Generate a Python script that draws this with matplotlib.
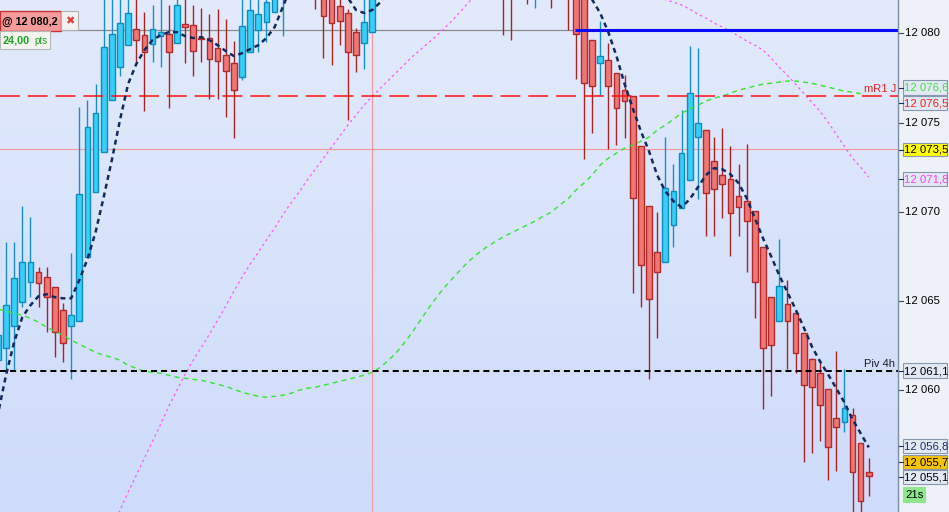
import numpy as np
import matplotlib
matplotlib.use("Agg")
import matplotlib.pyplot as plt
from matplotlib.patches import Rectangle
from matplotlib.lines import Line2D
from matplotlib.transforms import blended_transform_factory

plt.rcParams["font.family"] = ["Liberation Sans", "DejaVu Sans"]
nan = np.nan

# ---------- candles (index 0..107), prices ----------
opens = [12061.69, 12062.36, 12063.60, 12064.94, 12066.06, 12066.62, 12066.34, 12065.78, 12064.49, 12063.60,
         12063.88, 12067.46, 12071.10, 12073.35, 12076.26, 12078.11, 12079.34, 12080.24, 12079.90, 12079.40,
         12079.85, 12079.96, 12079.46, 12080.52, 12080.47, 12079.74, 12079.74, 12079.18, 12078.78, 12078.34,
         12077.55, 12078.95, 12080.18, 12080.63, 12081.19, 12082.30, 12083.40, 12084.20, 12083.60, 12084.00,
         12082.60, 12082.40, 12081.53, 12081.14, 12080.07, 12079.46, 12080.07, 12082.40, 12083.20, 12084.00,
         12084.80, 12085.50, 12085.00, 12085.90, 12086.40, 12085.80, 12086.50, 12086.00, 12085.20, 12085.70,
         12084.90, 12084.30, 12084.00, 12083.80, 12082.40, 12084.20, 12082.60, 12084.10, 12083.20, 12082.40,
         12083.60, 12082.50, 12082.20, 12079.62, 12078.34, 12078.50, 12077.77, 12076.82, 12076.49, 12073.68,
         12070.32, 12067.74, 12067.18, 12069.26, 12070.21, 12071.78, 12074.19, 12074.58, 12072.84, 12072.06,
         12071.83, 12070.88, 12070.60, 12070.04, 12068.02, 12065.22, 12063.88, 12064.83, 12064.32, 12063.20,
         12061.75, 12060.96, 12060.06, 12058.44, 12058.21, 12058.61, 12057.04, 12055.44]
highs = [12063.71, 12068.30, 12068.30, 12070.32, 12069.70, 12066.90, 12066.90, 12065.78, 12064.89, 12067.68,
         12075.87, 12076.26, 12077.16, 12082.30, 12082.40, 12082.20, 12082.50, 12082.00, 12081.19, 12081.59,
         12082.00, 12081.59, 12082.30, 12082.00, 12081.59, 12081.42, 12081.08, 12081.36, 12080.80, 12079.57,
         12082.00, 12082.50, 12082.10, 12082.60, 12082.90, 12084.00, 12084.60, 12085.00, 12084.80, 12084.40,
         12083.00, 12082.80, 12082.00, 12081.36, 12080.30, 12082.20, 12083.00, 12083.60, 12084.50, 12085.20,
         12086.00, 12086.60, 12086.30, 12087.00, 12087.20, 12086.90, 12087.40, 12086.80, 12086.10, 12086.40,
         12085.80, 12085.20, 12084.50, 12084.40, 12084.00, 12084.80, 12084.60, 12085.00, 12083.60, 12084.00,
         12084.00, 12083.00, 12082.60, 12079.62, 12080.69, 12079.46, 12077.77, 12077.66, 12076.49, 12073.68,
         12070.32, 12069.98, 12074.19, 12072.67, 12075.70, 12079.29, 12079.18, 12074.58, 12074.19, 12074.69,
         12073.68, 12072.67, 12073.79, 12070.04, 12068.02, 12065.22, 12068.47, 12066.17, 12064.32, 12063.20,
         12061.80, 12061.69, 12060.06, 12062.20, 12061.18, 12059.00, 12057.04, 12056.20]
lows = [12061.13, 12061.13, 12061.13, 12064.66, 12065.22, 12064.66, 12063.26, 12061.86, 12061.58, 12060.62,
        12063.88, 12067.46, 12071.10, 12073.35, 12076.26, 12077.61, 12079.34, 12078.39, 12075.64, 12078.39,
        12078.11, 12075.81, 12079.46, 12078.34, 12077.61, 12078.39, 12076.32, 12076.32, 12075.31, 12074.13,
        12077.38, 12078.95, 12078.95, 12079.51, 12081.19, 12079.85, 12082.90, 12083.10, 12082.50, 12081.36,
        12078.62, 12078.22, 12079.34, 12075.14, 12077.83, 12078.00, 12080.07, 12082.10, 12082.80, 12083.40,
        12084.10, 12084.70, 12084.20, 12085.00, 12085.30, 12084.90, 12085.60, 12084.80, 12084.00, 12084.50,
        12083.60, 12083.00, 12079.90, 12079.62, 12082.00, 12081.64, 12081.42, 12082.60, 12081.42, 12082.00,
        12080.18, 12077.44, 12072.95, 12074.41, 12076.54, 12073.51, 12073.74, 12074.13, 12065.45, 12064.66,
        12060.62, 12062.92, 12067.18, 12068.02, 12070.21, 12071.78, 12070.71, 12068.64, 12068.64, 12069.65,
        12067.52, 12068.64, 12066.62, 12064.04, 12058.94, 12059.67, 12063.88, 12061.18, 12060.96, 12055.97,
        12056.48, 12057.15, 12054.99, 12055.47, 12057.65, 12052.90, 12052.90, 12054.09]
closes = [12063.09, 12064.77, 12066.28, 12067.18, 12067.18, 12066.00, 12065.22, 12063.26, 12062.64, 12064.21,
          12070.99, 12074.75, 12075.53, 12079.23, 12079.96, 12080.58, 12081.14, 12079.62, 12078.95, 12080.24,
          12080.07, 12078.95, 12081.59, 12080.35, 12079.01, 12079.68, 12078.56, 12078.45, 12077.89, 12076.82,
          12080.41, 12081.31, 12081.08, 12081.75, 12082.40, 12083.40, 12084.20, 12083.60, 12084.00, 12082.60,
          12080.97, 12080.58, 12080.69, 12078.95, 12078.78, 12080.63, 12082.40, 12083.20, 12084.00, 12084.80,
          12085.50, 12085.00, 12085.90, 12086.40, 12085.80, 12086.50, 12086.00, 12085.20, 12085.70, 12084.90,
          12084.30, 12084.00, 12082.60, 12082.40, 12083.50, 12082.80, 12084.10, 12083.20, 12082.40, 12083.60,
          12082.50, 12079.96, 12077.21, 12077.05, 12078.73, 12077.05, 12075.81, 12076.21, 12070.77, 12067.01,
          12065.11, 12066.62, 12071.33, 12071.16, 12073.29, 12076.65, 12074.97, 12071.05, 12071.27, 12071.55,
          12069.93, 12070.26, 12069.48, 12066.06, 12062.36, 12062.53, 12065.84, 12063.88, 12062.08, 12060.29,
          12060.18, 12059.17, 12056.81, 12057.93, 12059.00, 12055.44, 12053.81, 12055.21]

# ---------- moving averages ----------
ma_navy = [12058.66, 12060.85, 12062.70, 12064.10, 12064.77, 12065.28, 12065.39, 12065.22, 12065.16, 12065.16,
           12066.17, 12067.35, 12068.86, 12070.82, 12072.90, 12075.14, 12077.16, 12078.28, 12079.06, 12079.62,
           12079.90, 12080.07, 12080.07, 12079.85, 12079.74, 12079.79, 12079.62, 12079.34, 12079.01, 12078.73,
           12078.89, 12079.12, 12079.34, 12079.74, 12080.35, 12081.47, 12082.60, 12083.50, 12084.00, 12084.20,
           12083.90, 12083.30, 12082.70, 12082.00, 12081.31, 12081.14, 12081.31, 12081.75, 12082.40, 12083.00,
           12083.50, 12084.00, 12084.40, 12084.70, 12085.00, 12085.20, 12085.30, 12085.30, 12085.20, 12085.10,
           12085.00, 12084.80, 12084.60, 12084.40, 12084.20, 12084.00, 12083.90, 12083.80, 12083.60, 12083.40,
           12083.10, 12082.80, 12082.40, 12081.90, 12081.14, 12080.07, 12078.73, 12077.16, 12075.81, 12074.52,
           12073.40, 12072.06, 12071.16, 12070.60, 12070.26, 12070.71, 12071.38, 12072.06, 12072.45, 12072.39,
           12072.11, 12071.61, 12070.77, 12069.65, 12068.53, 12067.52, 12066.45, 12065.50, 12064.55, 12063.54,
           12062.47, 12061.63, 12060.90, 12060.12, 12059.33, 12058.38, 12057.60, 12056.81]
ma_green = [12064.55, 12064.44, 12064.33, 12064.21, 12064.04, 12063.82, 12063.54, 12063.31, 12063.09, 12062.81,
            12062.59, 12062.36, 12062.14, 12061.97, 12061.86, 12061.69, 12061.41, 12061.24, 12061.07, 12061.02,
            12060.96, 12060.85, 12060.74, 12060.68, 12060.62, 12060.57, 12060.46, 12060.34, 12060.23, 12060.06,
            12059.90, 12059.78, 12059.67, 12059.62, 12059.67, 12059.73, 12059.84, 12060.01, 12060.12, 12060.18,
            12060.29, 12060.40, 12060.51, 12060.62, 12060.74, 12060.85, 12061.02, 12061.30, 12061.69, 12062.14,
            12062.70, 12063.31, 12063.99, 12064.66, 12065.28, 12065.84, 12066.34, 12066.84, 12067.29, 12067.68,
            12068.02, 12068.30, 12068.58, 12068.81, 12069.03, 12069.26, 12069.48, 12069.76, 12069.98, 12070.38,
            12070.71, 12071.21, 12071.61, 12072.06, 12072.62, 12073.01, 12073.29, 12073.57, 12073.74, 12073.96,
            12074.19, 12074.58, 12074.86, 12075.19, 12075.53, 12075.76, 12075.98, 12076.21, 12076.37, 12076.49,
            12076.65, 12076.82, 12076.93, 12077.05, 12077.16, 12077.21, 12077.27, 12077.33, 12077.33, 12077.27,
            12077.21, 12077.10, 12076.99, 12076.88, 12076.76, 12076.71, 12076.62, nan]
ma_magenta = [nan, nan, nan, nan, nan, nan, nan, nan, nan, nan,
              12048.52, 12049.48, 12050.43, 12051.38, 12052.33, 12053.28, 12054.29, 12055.24, 12056.20, 12057.15,
              12058.10, 12059.11, 12060.01, 12060.90, 12061.69, 12062.42, 12063.15, 12063.93, 12064.72, 12065.56,
              12066.34, 12067.07, 12067.74, 12068.42, 12069.09, 12069.82, 12070.49, 12071.10, 12071.78, 12072.39,
              12073.01, 12073.63, 12074.24, 12074.86, 12075.42, 12075.98, 12076.49, 12076.93, 12077.38, 12077.83,
              12078.28, 12078.73, 12079.12, 12079.51, 12079.90, 12080.35, 12080.80, 12081.31, 12081.81, 12082.32,
              12082.70, 12083.00, 12083.20, 12083.35, 12083.45, 12083.50, 12083.50, 12083.45, 12083.35, 12083.20,
              12083.05, 12082.90, 12082.75, 12082.60, 12082.45, 12082.35, 12082.25, 12082.15, 12082.10, 12082.00,
              12081.95, 12081.90, 12081.90, 12081.75, 12081.59, 12081.36, 12081.08, 12080.86, 12080.58, 12080.35,
              12080.13, 12079.85, 12079.57, 12079.34, 12079.06, 12078.62, 12078.11, 12077.66, 12077.16, 12076.65,
              12076.15, 12075.64, 12075.03, 12074.35, 12073.68, 12073.01, 12072.51, 12071.95]

# levels
order_level = 12080.2
r1_level = 12076.5
pink_level = 12073.5
piv_level = 12061.1
cross_idx = 46
blue_from_idx = 70.9

tick_vals = [12080, 12075, 12070, 12065, 12060]
tick_labels = ["12 080", "12 075", "12 070", "12 065", "12 060"]

# right-hand price boxes: text, top px, bottom px, face, text colour
price_boxes = [("12 076,6", 80, 95, "#e3e9f4", "#3ee23e"),
               ("12 076,5", 96, 110, "#e3e9f4", "#ff1a1a"),
               ("12 073,5", 143, 156, "#ffff00", "#000000"),
               ("12 071,8", 172, 186, "#e3e9f4", "#ff3cff"),
               ("12 061,1", 363, 378, "#e3e9f4", "#000000"),
               ("12 056,8", 439, 453, "#e3e9f4", "#1c2c6c"),
               ("12 055,7", 455, 469, "#f7c300", "#000000"),
               ("12 055,1", 470, 484, "#e3e9f4", "#000000")]

W, H = 949, 512
AXW = 898
X0, X1 = 0.263, 110.59
Y0, Y1 = 12053.19, 12081.87

fig = plt.figure(figsize=(W / 100, H / 100), dpi=100)
fig.patch.set_facecolor("#eef1f8")
ax = fig.add_axes([0, 0, AXW / W, 1])

top = np.array([226, 234, 252]) / 255
bot = np.array([206, 219, 250]) / 255
t = np.linspace(0, 1, 256)[:, None, None]
grad = top * (1 - t) + bot * t
ax.imshow(grad, extent=(X0, X1, Y0, Y1), aspect="auto", origin="upper", zorder=0)
ax.set_xlim(X0, X1)
ax.set_ylim(Y0, Y1)
ax.axis("off")

o = np.array(opens); h = np.array(highs); l = np.array(lows); c = np.array(closes)
idx = np.arange(len(o))
up = c >= o
ax.vlines(idx[up], l[up], h[up], color="#1591c9", lw=1.0, zorder=3)
ax.vlines(idx[~up], l[~up], h[~up], color="#a82424", lw=1.0, zorder=3)
ax.bar(idx[up], (c - o)[up], bottom=o[up], width=0.7, color="#38cff7",
       edgecolor="#0d8cc2", lw=1.0, zorder=4)
ax.bar(idx[~up], (o - c)[~up], bottom=c[~up], width=0.7, color="#f07676",
       edgecolor="#b02a2a", lw=1.0, zorder=4)

# reference lines
ax.axhline(pink_level, color="#f59a9a", lw=0.8, zorder=2)
ax.axvline(cross_idx, color="#f59a9a", lw=0.8, zorder=2)
ax.hlines(order_level, X0, blue_from_idx, color="#8a8a8a", lw=0.9, zorder=2)
ax.hlines(order_level, blue_from_idx, X1, color="#0a0aff", lw=2.2, zorder=6)
ax.axhline(r1_level, color="#ff1010", lw=1.1, ls=(0, (13, 5.2)), zorder=6)
ax.axhline(piv_level, color="#000000", lw=1.45, ls=(0, (3, 2)), zorder=6)

# moving averages
ax.plot(idx, ma_green, color="#33e433", lw=1.0, ls=(0, (3.5, 3)), zorder=5)
ax.plot(idx, ma_magenta, color="#ff55ff", lw=0.9, ls=(0, (2, 2.5)), zorder=5)
ax.plot(idx, ma_navy, color="#112b5e", lw=1.8, ls=(0, (2.0, 1.6)), zorder=7)

trans = blended_transform_factory(ax.transAxes, ax.transData)
ax.text(864 / AXW, r1_level + 0.12, "mR1 J", transform=trans, color="#e82020",
        fontsize=8, va="bottom", ha="left", zorder=8)
ax.text(864 / AXW, piv_level + 0.12, "Piv 4h", transform=trans, color="#1e1e28",
        fontsize=8, va="bottom", ha="left", zorder=8)

# right price scale
fig.add_artist(Line2D([AXW / W, AXW / W], [0, 1], transform=fig.transFigure,
                      color="#7d8fa3", lw=1.0))
for v, lab in zip(tick_vals, tick_labels):
    ax.text(905 / AXW, v, lab, transform=trans, fontsize=8.2, va="center",
            ha="left", color="#000000", clip_on=False)
    ax.plot([899 / AXW, 903 / AXW], [v, v], transform=trans, color="#3a4a5a",
            lw=0.8, clip_on=False)


def px_box(x0, y0, x1, y1, fc, ec, lw=0.8):
    fig.add_artist(Rectangle((x0 / W, 1 - y1 / H), (x1 - x0) / W, (y1 - y0) / H,
                             transform=fig.transFigure, fc=fc, ec=ec, lw=lw))


def px_text(x, y, s, **kw):
    fig.text(x / W, 1 - y / H, s, va="center", **kw)


for lab, y0, y1, fc, tc in price_boxes:
    px_box(903, y0, 947, y1, fc, "#8797ae")
    px_text(904.5, (y0 + y1) / 2 + 0.5, lab, fontsize=8.2, color=tc, ha="left")
    fig.add_artist(Line2D([899 / W, 903 / W], [1 - (y0 + y1) / 2 / H] * 2,
                          transform=fig.transFigure, color="#1c2c6c", lw=0.8))
px_box(903, 487, 925, 502, "#8fe68f", "#8fe68f")
px_text(905, 495, "21s", fontsize=8.2, color="#000000", ha="left")

# top-left order tags
px_box(0, 11, 61, 31, "#f49c9c", "#c83232", lw=1.0)
px_text(2, 21.5, "@ 12 080,2", fontsize=7.8, fontweight="bold", color="#000000", ha="left")
px_box(61, 11, 78, 30, "#f1f1f1", "#b0b0b0", lw=0.8)
px_text(69.5, 21, "\u2716", fontsize=8, color="#e03c3c", ha="center", family="DejaVu Sans")
px_box(0, 31, 50, 49, "#f3f5f3", "#b8b8b8", lw=0.8)
px_text(3, 40.5, "24,00", fontsize=7.8, fontweight="bold", color="#22a022", ha="left")
px_text(34, 41, "pts", fontsize=7, color="#22a022", ha="left")

fig.savefig("out.png", dpi=100)
